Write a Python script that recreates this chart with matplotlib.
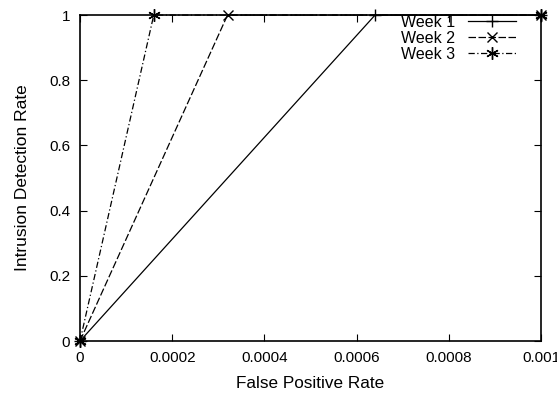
import matplotlib
matplotlib.use('Agg')
import matplotlib.pyplot as plt

plt.rcParams['font.family'] = ['Liberation Sans', 'DejaVu Sans']

# ROC points per week
week1_fpr = [0, 0.00064, 0.001]
week1_idr = [0, 1, 1]
week2_fpr = [0, 0.00032, 0.001]
week2_idr = [0, 1, 1]
week3_fpr = [0, 0.00016, 0.001]
week3_idr = [0, 1, 1]

xticks = [0, 0.0002, 0.0004, 0.0006, 0.0008, 0.001]
xticklabels = ['0', '0.0002', '0.0004', '0.0006', '0.0008', '0.001']
yticks = [0, 0.2, 0.4, 0.6, 0.8, 1]
yticklabels = ['0', '0.2', '0.4', '0.6', '0.8', '1']

fig = plt.figure(figsize=(5.57, 3.97), dpi=100)
ax = fig.add_axes([0.1436, 0.141, 0.8277, 0.821])

ax.plot(week1_fpr, week1_idr, color='black', lw=0.9, ls='-', marker='+', ms=9, mew=1,
        label='Week 1', clip_on=False)
ax.plot(week2_fpr, week2_idr, color='black', lw=0.9, ls=(0, (6, 2)), marker='x', ms=7, mew=1,
        label='Week 2', clip_on=False)
ax.plot(week3_fpr, week3_idr, color='black', lw=0.9, ls=(0, (5, 2, 1, 2)), marker=(6, 2, 0), ms=9, mew=1,
        label='Week 3', clip_on=False)

ax.set_xlim(0, 0.001)
ax.set_ylim(0, 1)
ax.set_xticks(xticks)
ax.set_xticklabels(xticklabels)
ax.set_yticks(yticks)
ax.set_yticklabels(yticklabels)
ax.tick_params(direction='in', top=True, right=True, length=5, labelsize=11, pad=7)
for s in ax.spines.values():
    s.set_linewidth(1.2)

ax.set_xlabel('False Positive Rate', fontsize=12.3, labelpad=8)
ax.set_ylabel('Intrusion Detection Rate', fontsize=12.5, labelpad=14)

leg = ax.legend(loc='upper right', frameon=False, markerfirst=False, fontsize=11.5,
                handlelength=3, handletextpad=0.8, labelspacing=0.05,
                bbox_to_anchor=(0.96, 1.02), borderaxespad=0)

fig.savefig('out.png', dpi=100)
